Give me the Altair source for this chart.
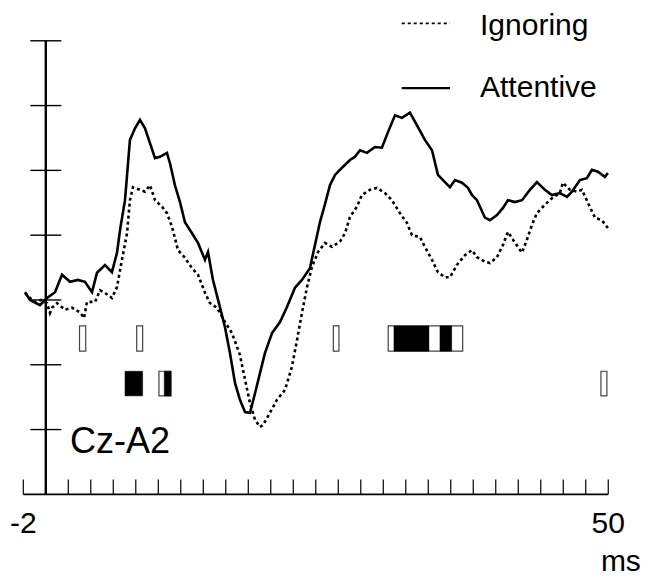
import altair as alt
import pandas as pd

# ---------------- data (time in ms, amplitude in axis-tick units) ----------------
att_t = [-1.85, -1.40, -0.52, 0.11, 0.82, 1.44, 2.15, 2.86, 3.48, 4.11, 4.55, 5.26, 5.88, 6.33,
         6.60, 7.04, 7.48, 7.93, 8.37, 8.82, 9.26, 9.71, 10.15, 10.77, 11.04, 11.48, 11.93, 12.37,
         13.00, 13.53, 14.15, 14.42, 14.86, 15.48, 15.93, 16.37, 16.82, 17.26, 17.71, 18.15, 18.60,
         19.04, 19.48, 20.11, 20.82, 21.44, 22.15, 22.77, 23.48, 23.93, 24.37, 24.82, 25.26, 25.71,
         26.33, 27.04, 27.48, 27.93, 28.55, 29.26, 29.88, 30.42, 31.04, 31.66, 32.37, 32.99, 33.70,
         34.33, 34.86, 35.48, 35.93, 36.37, 36.99, 37.53, 37.88, 38.33, 39.04, 39.48, 40.11, 40.64,
         41.08, 41.70, 42.33, 43.04, 43.66, 44.37, 44.99, 45.70, 46.33, 46.77, 47.48, 48.10, 48.55,
         49.08, 49.70, 49.97]
att_v = [0.12, 0.00, -0.08, 0.03, 0.12, 0.39, 0.28, 0.31, 0.28, 0.12, 0.42, 0.54, 0.43, 0.73,
         1.08, 1.54, 2.47, 2.65, 2.78, 2.65, 2.42, 2.19, 2.21, 2.27, 2.11, 1.77, 1.51, 1.20,
         1.03, 0.88, 0.62, 0.74, 0.31, -0.11, -0.42, -0.82, -1.28, -1.54, -1.73, -1.74, -1.44,
         -1.13, -0.82, -0.51, -0.34, -0.11, 0.19, 0.31, 0.49, 0.85, 1.20, 1.48, 1.77, 1.93,
         2.04, 2.16, 2.21, 2.31, 2.27, 2.36, 2.35, 2.59, 2.85, 2.81, 2.89, 2.70, 2.47,
         2.31, 1.93, 1.82, 1.74, 1.85, 1.81, 1.73, 1.62, 1.54, 1.27, 1.23, 1.31, 1.42,
         1.54, 1.51, 1.54, 1.70, 1.82, 1.70, 1.62, 1.65, 1.59, 1.67, 1.85, 1.88, 2.01,
         1.98, 1.90, 1.96]

ign_t = [-1.85, -1.40, -0.96, -0.43, 0.11, 0.37, 0.55, 1.00, 1.71, 2.33, 3.04, 3.40, 3.66, 4.37,
         4.82, 5.26, 5.88, 6.33, 6.77, 7.22, 7.48, 7.75, 8.37, 8.82, 9.26, 9.71, 10.33, 10.77,
         11.22, 11.75, 12.37, 13.00, 13.53, 14.15, 14.60, 15.22, 15.93, 16.55, 17.26, 17.71,
         18.15, 18.60, 19.04, 19.31, 19.93, 20.55, 21.26, 21.88, 22.33, 22.77, 23.22, 23.66,
         24.20, 24.82, 25.44, 26.15, 26.60, 27.04, 27.66, 28.10, 28.82, 29.44, 30.15, 30.77,
         31.48, 32.10, 32.55, 33.26, 33.70, 34.33, 34.86, 35.48, 35.93, 36.55, 37.26, 37.88,
         38.33, 39.04, 39.48, 40.11, 40.64, 41.08, 41.53, 41.97, 42.33, 42.77, 43.22, 43.66,
         44.37, 44.99, 45.70, 45.97, 46.59, 47.22, 47.66, 48.19, 48.82, 49.44, 49.97]
ign_v = [0.11, 0.03, -0.03, 0.00, -0.05, -0.20, -0.12, -0.05, -0.15, -0.12, -0.19, -0.28, -0.03, -0.03,
         0.15, 0.11, 0.03, 0.20, 0.62, 1.03, 1.54, 1.74, 1.70, 1.67, 1.77, 1.54, 1.44, 1.34,
         1.13, 0.77, 0.65, 0.49, 0.39, 0.11, -0.05, -0.12, -0.34, -0.51, -0.85, -1.23,
         -1.59, -1.85, -1.96, -1.93, -1.74, -1.54, -1.39, -1.03, -0.62, -0.20, 0.20, 0.51,
         0.74, 0.88, 0.82, 0.90, 1.03, 1.28, 1.44, 1.62, 1.70, 1.73, 1.65, 1.54,
         1.34, 1.19, 1.00, 0.97, 0.82, 0.62, 0.43, 0.35, 0.35, 0.54, 0.69, 0.77,
         0.66, 0.59, 0.57, 0.66, 0.85, 1.05, 0.93, 0.82, 0.73, 0.93, 1.16, 1.34,
         1.47, 1.57, 1.65, 1.81, 1.70, 1.67, 1.70, 1.50, 1.27, 1.23, 1.11]

# significance intervals (ms): row 1 and row 2
sig_open_start = [3.00, 8.08, 25.56, 30.44, 10.06, 49.35]
sig_open_end   = [3.55, 8.61, 26.06, 37.06, 11.13, 49.88]
sig_open_row   = [1, 1, 1, 1, 2, 2]
sig_fill_start = [30.95, 35.04, 7.04, 10.53]
sig_fill_end   = [34.06, 36.08, 8.61, 11.13]
sig_fill_row   = [1, 1, 2, 2]

x_ticks = list(range(-2, 51, 2))
y_ticks = [4, 3, 2, 1, 0, -1, -2]
x_range = [-2, 50]
y_axis_range = [-3, 4]

legend_labels = ["Ignoring", "Attentive"]

# ---------------- layout helpers ----------------
ROW_TOP = {1: -0.40, 2: -1.10}
ROW_BOT = {1: -0.79, 2: -1.48}
XTICK_LEN = 0.23
YTICK_HALF = 1.38

FONT = "Liberation Sans"
xs = alt.Scale(domain=[-3.36, 53.0], nice=False, zero=False)
ys = alt.Scale(domain=[-4.291, 4.506], nice=False, zero=False)


def X(f):
    return alt.X(f, type="quantitative", scale=xs, axis=None)


def Y(f):
    return alt.Y(f, type="quantitative", scale=ys, axis=None)


att = pd.DataFrame({"t": att_t, "v": att_v})
ign = pd.DataFrame({"t": ign_t, "v": ign_v})

line_att = alt.Chart(att).mark_line(color="black", strokeWidth=2.6).encode(x=X("t"), y=Y("v"))
line_ign = alt.Chart(ign).mark_line(color="black", strokeWidth=2.6, strokeDash=[3, 3]).encode(
    x=X("t"), y=Y("v"))

open_df = pd.DataFrame({"t": sig_open_start, "t2": sig_open_end,
                        "v": [ROW_TOP[r] for r in sig_open_row],
                        "v2": [ROW_BOT[r] for r in sig_open_row]})
fill_df = pd.DataFrame({"t": sig_fill_start, "t2": sig_fill_end,
                        "v": [ROW_TOP[r] for r in sig_fill_row],
                        "v2": [ROW_BOT[r] for r in sig_fill_row]})
open_rects = alt.Chart(open_df).mark_rect(fill="white", stroke="#444", strokeWidth=1.2).encode(
    x=X("t"), x2="t2", y=Y("v"), y2="v2")
fill_rects = alt.Chart(fill_df).mark_rect(fill="black", stroke="black", strokeWidth=0.5).encode(
    x=X("t"), x2="t2", y=Y("v"), y2="v2")

# axes drawn as rules
xaxis_df = pd.DataFrame({"t": [x_range[0]], "t2": [x_range[1]], "v": [y_axis_range[0]]})
xaxis = alt.Chart(xaxis_df).mark_rule(color="black", strokeWidth=1.8).encode(x=X("t"), x2="t2", y=Y("v"))
xt_df = pd.DataFrame({"t": x_ticks, "v": [y_axis_range[0]] * len(x_ticks),
                      "v2": [y_axis_range[0] + XTICK_LEN] * len(x_ticks)})
xticks = alt.Chart(xt_df).mark_rule(color="black", strokeWidth=1.2).encode(x=X("t"), y=Y("v"), y2="v2")
yaxis_df = pd.DataFrame({"t": [0], "v": [y_axis_range[0]], "v2": [y_axis_range[1]]})
yaxis = alt.Chart(yaxis_df).mark_rule(color="black", strokeWidth=2.4).encode(x=X("t"), y=Y("v"), y2="v2")
yt_df = pd.DataFrame({"v": y_ticks, "t": [-YTICK_HALF] * len(y_ticks), "t2": [YTICK_HALF] * len(y_ticks)})
yticks = alt.Chart(yt_df).mark_rule(color="black", strokeWidth=1.4).encode(x=X("t"), x2="t2", y=Y("v"))

# tick labels & unit
lab_df = pd.DataFrame({"t": [x_range[0], x_range[1]], "v": [-3.60, -3.60],
                       "label": [str(x_range[0]), str(x_range[1])]})
labels = alt.Chart(lab_df).mark_text(font=FONT, fontSize=30, align="center", baseline="alphabetic",
                                     color="black").encode(x=X("t"), y=Y("v"), text="label:N")
unit_df = pd.DataFrame({"t": [52.9], "v": [-4.18], "label": ["ms"]})
unit = alt.Chart(unit_df).mark_text(font=FONT, fontSize=30, align="right", baseline="alphabetic",
                                    color="black").encode(x=X("t"), y=Y("v"), text="label:N")
chan_df = pd.DataFrame({"t": [2.15], "v": [-2.36], "label": ["Cz-A2"]})
chan = alt.Chart(chan_df).mark_text(font=FONT, fontSize=36, align="left", baseline="alphabetic",
                                    color="black").encode(x=X("t"), y=Y("v"), text="label:N")

# legend
leg_df = pd.DataFrame({"t": [31.64, 31.64], "t2": [35.93, 35.93], "v": [4.27, 3.27],
                       "label": legend_labels, "lt": [38.6, 38.6], "lv": [4.09, 3.14]})
leg_ign = alt.Chart(leg_df[leg_df.label == "Ignoring"]).mark_rule(
    color="black", strokeWidth=1.8, strokeDash=[3, 3]).encode(x=X("t"), x2="t2", y=Y("v"))
leg_att = alt.Chart(leg_df[leg_df.label == "Attentive"]).mark_rule(
    color="black", strokeWidth=2.4).encode(x=X("t"), x2="t2", y=Y("v"))
leg_text = alt.Chart(leg_df).mark_text(font=FONT, fontSize=30, align="left", baseline="alphabetic",
                                       color="black").encode(x=X("lt"), y=Y("lv"), text="label:N")

chart = alt.layer(
    open_rects, fill_rects, xaxis, xticks, yaxis, yticks,
    line_ign, line_att, labels, unit, chan, leg_ign, leg_att, leg_text
).properties(
    width=634, height=570, padding=0,
    autosize=alt.AutoSizeParams(type="none"),
).configure_view(stroke=None)

chart.save("out.html", embed_options={"renderer": "svg", "actions": False})
